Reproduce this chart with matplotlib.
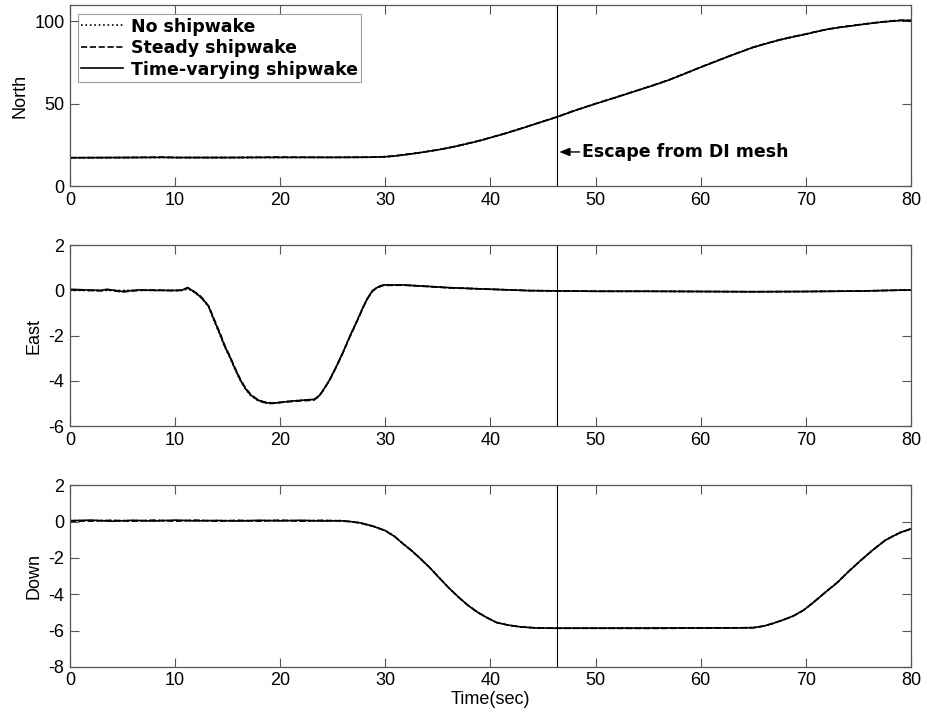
import matplotlib
matplotlib.use("Agg")
import matplotlib.pyplot as plt

plt.rcParams["font.family"] = ["Liberation Sans", "DejaVu Sans"]
plt.rcParams["axes.unicode_minus"] = False

# --- data ------------------------------------------------------------------
escape_time = 46.3

north_t = [0, 5, 9, 10, 15, 20, 25, 28.5, 29.8, 30.7, 31.5, 32.3, 33.2, 34, 35, 36, 36.9, 37.7,
           38.5, 39.3, 40, 41.5, 42.9, 44.6, 46.3, 48, 50, 52, 53.8, 55.5, 57, 58.5, 60, 61.3,
           62.5, 63.8, 65, 66.3, 67.5, 68.8, 70, 71, 72, 73.2, 74.4, 75.7, 77, 78, 79, 80]
north_tv = [17.2, 17.3, 17.4, 17.3, 17.3, 17.4, 17.4, 17.5, 17.7, 18.1, 18.7, 19.4, 20.2, 21.0,
            22.0, 23.2, 24.4, 25.6, 26.8, 28.1, 29.4, 32.1, 34.9, 38.4, 41.9, 45.8, 50.0,
            54.0, 57.7, 61.2, 64.5, 68.3, 72.2, 75.4, 78.4, 81.5, 84.3, 86.7, 88.8, 90.7,
            92.3, 93.8, 95.2, 96.4, 97.4, 98.5, 99.5, 100.1, 100.6, 100.8]
north_steady = [17.2, 17.3, 17.6, 17.3, 17.3, 17.6, 17.4, 17.5, 17.8, 18.2, 18.8, 19.5, 20.2,
                21.0, 22.0, 23.2, 24.5, 25.7, 26.9, 28.2, 29.5, 32.2, 35.0, 38.5, 42.0, 45.9,
                50.1, 54.1, 57.8, 61.3, 64.6, 68.4, 72.3, 75.5, 78.5, 81.6, 84.4, 86.8, 88.9,
                90.8, 92.4, 93.9, 95.3, 96.5, 97.5, 98.6, 99.6, 100.3, 100.8, 100.2]
north_none = [17.2, 17.3, 17.3, 17.3, 17.3, 17.3, 17.4, 17.5, 17.7, 18.1, 18.7, 19.4, 20.1,
              21.0, 22.0, 23.2, 24.4, 25.6, 26.8, 28.1, 29.4, 32.1, 34.9, 38.4, 41.9, 45.8,
              50.0, 54.0, 57.7, 61.2, 64.5, 68.3, 72.2, 75.4, 78.4, 81.5, 84.3, 86.7, 88.8,
              90.7, 92.3, 93.8, 95.2, 96.4, 97.4, 98.5, 99.5, 100.1, 100.6, 100.5]

east_t = [0, 1.5, 3, 3.5, 5, 6.5, 8, 10, 10.6, 11.2, 11.6, 12.0, 12.4, 12.8, 13.2, 13.7, 14.3,
          14.7, 15.2, 15.7, 16.2, 16.7, 17.2, 17.8, 18.4, 19.2, 20.0, 20.9, 22, 23.2, 23.7, 24.1,
          24.7, 25.3, 26.0, 26.6, 27.3, 27.9, 28.3, 28.8, 29.3, 29.8, 31.7, 34, 36.1, 40, 43.7,
          50, 55, 60, 65, 70, 75, 80]
east_tv = [0.05, 0.02, 0.0, 0.05, -0.05, 0.02, 0.0, 0.0, 0.0, 0.13, 0.0, -0.13, -0.28, -0.48,
           -0.72, -1.3, -1.97, -2.45, -2.93, -3.47, -3.96, -4.35, -4.63, -4.83, -4.95, -5.0,
           -4.95, -4.9, -4.86, -4.82, -4.66, -4.4, -3.95, -3.4, -2.7, -2.05, -1.35, -0.72,
           -0.35, 0.0, 0.15, 0.24, 0.24, 0.18, 0.12, 0.05, -0.01, -0.04, -0.04, -0.05, -0.06,
           -0.05, -0.03, 0.02]
east_steady = [0.03, 0.0, -0.02, 0.03, -0.07, 0.0, 0.02, -0.02, 0.02, 0.1, 0.02, -0.11, -0.25,
               -0.46, -0.7, -1.26, -1.92, -2.41, -2.9, -3.43, -3.92, -4.32, -4.6, -4.81,
               -4.92, -4.98, -4.96, -4.92, -4.88, -4.85, -4.68, -4.42, -3.97, -3.42, -2.73,
               -2.08, -1.38, -0.75, -0.37, -0.02, 0.13, 0.22, 0.23, 0.17, 0.11, 0.05, -0.01,
               -0.04, -0.04, -0.05, -0.06, -0.05, -0.03, 0.02]
east_none = [0.0, 0.0, 0.0, 0.0, 0.0, 0.0, 0.0, 0.0, 0.0, 0.05, 0.0, -0.15, -0.3, -0.5, -0.75,
             -1.35, -2.0, -2.48, -2.96, -3.5, -3.98, -4.37, -4.65, -4.85, -4.96, -5.0, -4.95,
             -4.9, -4.86, -4.82, -4.66, -4.4, -3.95, -3.4, -2.7, -2.05, -1.35, -0.72, -0.35,
             0.0, 0.15, 0.24, 0.24, 0.18, 0.12, 0.05, -0.01, -0.04, -0.04, -0.05, -0.06, -0.05,
             -0.03, 0.02]

down_t = [0, 2, 4, 6, 8, 10, 12, 14, 16, 18, 20, 22, 24, 25.7, 26.7, 27.6, 28.8, 30, 30.9,
          31.7, 32.5, 33.2, 34.2, 35.1, 36, 37, 37.9, 38.8, 39.7, 40.6, 41.7, 42.9, 44.5, 46.3,
          55, 63.5, 65, 66.0, 66.9, 67.8, 68.8, 69.8, 70.7, 71.8, 73, 74.1, 75.2, 76.3, 77.5,
          78.3, 79, 80]
down_tv = [0.05, 0.08, 0.02, 0.07, 0.03, 0.08, 0.04, 0.06, 0.03, 0.07, 0.04, 0.07, 0.03, 0.05,
           0.0, -0.07, -0.25, -0.5, -0.83, -1.23, -1.6, -1.97, -2.52, -3.08, -3.63, -4.18,
           -4.63, -5.0, -5.3, -5.56, -5.7, -5.8, -5.86, -5.87, -5.86, -5.85, -5.84, -5.75,
           -5.6, -5.42, -5.2, -4.87, -4.46, -3.92, -3.35, -2.73, -2.15, -1.6, -1.05, -0.8,
           -0.6, -0.4]
down_steady = [0.02, 0.03, 0.07, 0.02, 0.08, 0.02, 0.08, 0.02, 0.07, 0.02, 0.08, 0.02, 0.07,
               0.03, 0.0, -0.08, -0.25, -0.5, -0.83, -1.23, -1.6, -1.97, -2.52, -3.08, -3.63,
               -4.18, -4.63, -5.0, -5.3, -5.56, -5.7, -5.8, -5.86, -5.87, -5.88, -5.85, -5.84,
               -5.75, -5.6, -5.42, -5.2, -4.87, -4.46, -3.92, -3.35, -2.73, -2.15, -1.6, -1.05,
               -0.8, -0.6, -0.4]
down_none = [0.05, 0.05, 0.05, 0.05, 0.05, 0.05, 0.05, 0.05, 0.05, 0.05, 0.05, 0.05, 0.05,
             0.05, 0.0, -0.07, -0.25, -0.5, -0.83, -1.23, -1.6, -1.97, -2.52, -3.08, -3.63,
             -4.18, -4.63, -5.0, -5.3, -5.56, -5.7, -5.8, -5.86, -5.87, -5.86, -5.85, -5.84,
             -5.75, -5.6, -5.42, -5.2, -4.87, -4.46, -3.92, -3.35, -2.73, -2.15, -1.6, -1.05,
             -0.8, -0.6, -0.4]

legend_labels = ["No shipwake", "Steady shipwake", "Time-varying shipwake"]

panels = [
    ("North", north_t, [north_none, north_steady, north_tv], (0, 110), [0, 50, 100]),
    ("East", east_t, [east_none, east_steady, east_tv], (-6, 2), [-6, -4, -2, 0, 2]),
    ("Down", down_t, [down_none, down_steady, down_tv], (-8, 2), [-8, -6, -4, -2, 0, 2]),
]

# --- figure ------------------------------------------------------------------
fig = plt.figure(figsize=(9.27, 7.21), dpi=100)
rects = [[0.0755, 0.742, 0.9072, 0.251],
         [0.0755, 0.409, 0.9072, 0.251],
         [0.0755, 0.075, 0.9072, 0.252]]
styles = [":", "--", "-"]

axes = []
for rect, (name, t, series, ylim, yticks) in zip(rects, panels):
    ax = fig.add_axes(rect)
    for y, ls, lab in zip(series, styles, legend_labels):
        ax.plot(t, y, color="black", linestyle=ls, linewidth=1.2, label=lab)
    ax.axvline(escape_time, color="black", linewidth=0.8)
    ax.set_xlim(0, 80)
    ax.set_ylim(*ylim)
    ax.set_xticks(range(0, 81, 10))
    ax.set_yticks(yticks)
    ax.set_ylabel(name, fontsize=13, labelpad=4)
    ax.tick_params(direction="in", top=True, right=True, length=6.5, width=0.8,
                   labelsize=13, color="#555555", pad=4)
    for s in ax.spines.values():
        s.set_color("#555555")
        s.set_linewidth(0.9)
    axes.append(ax)

bold_font = {"family": "DejaVu Sans", "weight": "bold", "size": 12.5}

leg = axes[0].legend(loc="upper left", bbox_to_anchor=(0.0095, 0.95), fancybox=False,
                     prop=bold_font, handlelength=2.4, handletextpad=0.45, borderpad=0.2,
                     labelspacing=0.2, borderaxespad=0.0)
leg.get_frame().set_edgecolor("#888888")
leg.get_frame().set_linewidth(0.8)

axes[0].annotate("Escape from DI mesh", xy=(46.55, 20.7), xytext=(48.75, 20.7),
                 va="center", ha="left", **bold_font,
                 arrowprops=dict(arrowstyle="-|>,head_length=0.5,head_width=0.2",
                                 color="black", lw=1.0, shrinkA=0, shrinkB=0))

axes[2].set_xlabel("Time(sec)", fontsize=13, labelpad=1)

fig.savefig("out.png", dpi=100)
